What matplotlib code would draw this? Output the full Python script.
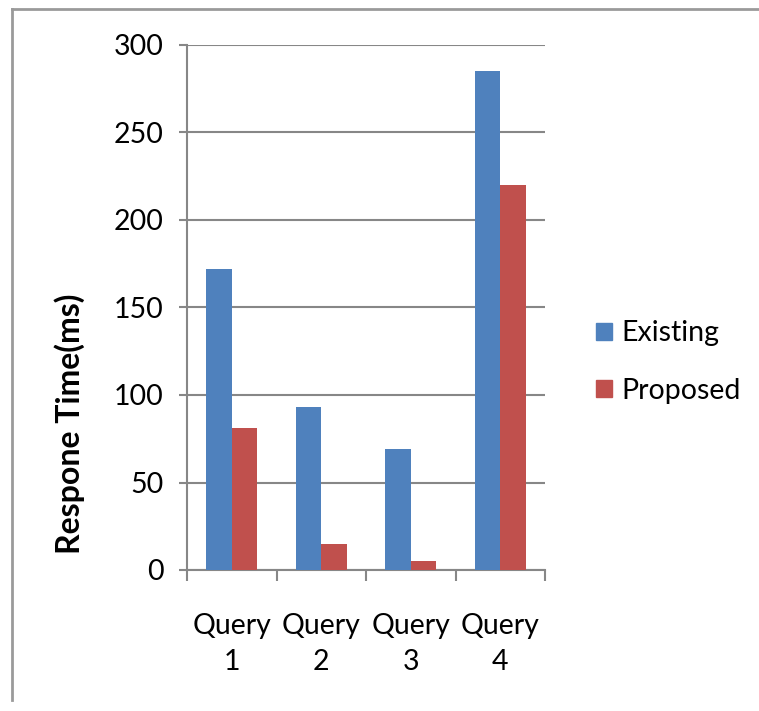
import matplotlib
matplotlib.use("Agg")
import matplotlib.pyplot as plt
from matplotlib.lines import Line2D
from matplotlib.patches import Patch
import numpy as np

categories = ["Query\n1", "Query\n2", "Query\n3", "Query\n4"]
existing = [172, 93, 69, 285]
proposed = [81, 15, 5, 220]
series_names = ["Existing", "Proposed"]
yticks = [0, 50, 100, 150, 200, 250, 300]

plt.rcParams['font.family'] = ['Lato', 'DejaVu Sans']
W, H = 759, 711
fig = plt.figure(figsize=(W / 100, H / 100), dpi=100)
ax = fig.add_axes([187 / W, 1 - 570 / H, (545 - 187) / W, (570 - 45) / H])

blue = "#4F81BD"
red = "#C0504D"
grid = "#878787"
fs = 20.5

x = np.arange(len(categories))
bw = 1 / 3.5
ax.bar(x - bw / 2, existing, width=bw, color=blue, zorder=3)
ax.bar(x + bw / 2, proposed, width=bw, color=red, zorder=3)

ax.set_xlim(-0.5, len(categories) - 0.5)
ax.set_ylim(0, 300)
ax.set_yticks(yticks)
ax.set_yticklabels([str(v) for v in yticks], fontsize=fs)
ax.yaxis.grid(True, color=grid, linewidth=1.5, zorder=0)
ax.set_axisbelow(True)

ax.set_xticks(x)
ax.set_xticklabels(categories, fontsize=fs, linespacing=1.45)
ax.tick_params(axis='x', which='major', length=0, pad=31)
ax.set_xticks(np.arange(len(categories) + 1) - 0.5, minor=True)
ax.tick_params(axis='x', which='minor', length=8, width=1.5, color=grid, direction='out')
ax.tick_params(axis='y', length=6, width=1.5, color=grid, direction='out', pad=11)

for s in ['top', 'right']:
    ax.spines[s].set_visible(False)
for s in ['left', 'bottom']:
    ax.spines[s].set_color(grid)
    ax.spines[s].set_linewidth(1.5)

fig.text(70 / W, 1 - 424 / H, "Respone Time(ms)", rotation=90, ha='center', va='center',
         fontsize=23, fontweight='bold')

handles = [Patch(color=blue), Patch(color=red)]
fig.legend(handles, series_names, loc='center left', bbox_to_anchor=(596 / W, 1 - 362 / H),
           frameon=False, fontsize=fs, handlelength=0.55, handleheight=0.55,
           handletextpad=0.35, labelspacing=1.1, borderaxespad=0, borderpad=0)

# outer frame (left and top)
fig.add_artist(Line2D([12 / W, 12 / W], [1 - 700 / H, 1 - 9 / H], color="#9a9a9a", linewidth=2,
                      transform=fig.transFigure))
fig.add_artist(Line2D([12 / W, 1.0], [1 - 9 / H, 1 - 9 / H], color="#9a9a9a", linewidth=2,
                      transform=fig.transFigure))

fig.savefig("out.png", dpi=100)
